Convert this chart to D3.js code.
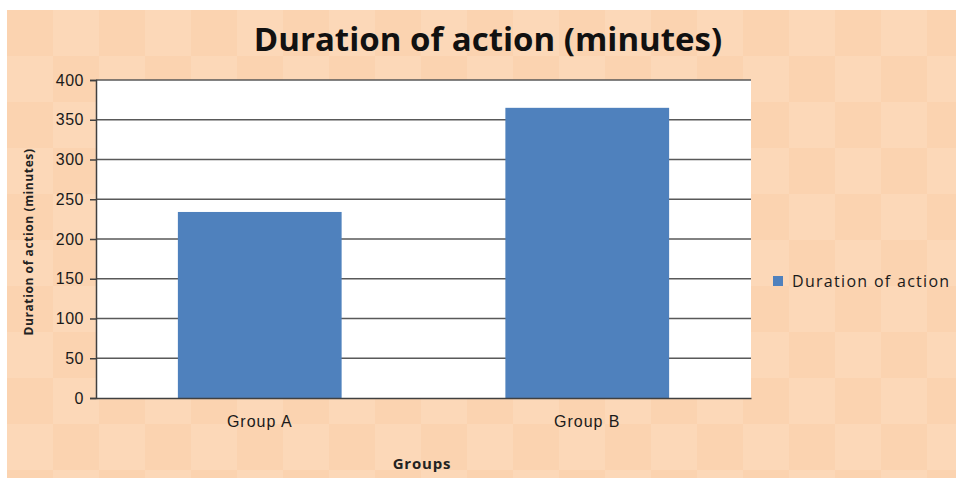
<!DOCTYPE html>
<html>
<head>
<meta charset="utf-8">
<script src="https://cdn.jsdelivr.net/npm/d3@7"></script>
<style>
  body { margin: 0; background: #fff; }
</style>
</head>
<body>
<div id="vis1"></div>
<script>
// data
let groups = ['Group A', 'Group B'];
let durations = [234, 365];
let yTicks = [0, 50, 100, 150, 200, 250, 300, 350, 400];
let seriesName = 'Duration of action';

let W = 956, H = 488;
let margin = { top: 80, left: 96, right: 205, bottom: 90 },
  width = W - margin.left - margin.right,
  height = H - margin.top - margin.bottom;

let svg1 = d3.select('#vis1')
  .append('svg')
  .attr('width', W)
  .attr('height', H)
  .style('font-family', 'Open Sans, Liberation Sans, sans-serif');

// peach checkered background
let bg = svg1.append('g');
bg.append('rect')
  .attr('x', 7).attr('y', 10)
  .attr('width', W - 7).attr('height', 468)
  .attr('fill', '#fcd8b8');
let cell = 46;
for (let i = 0; i * cell < W; i++) {
  for (let j = 0; j * cell < 468; j++) {
    if ((i + j) % 2 == 0) {
      bg.append('rect')
        .attr('x', 7 + i * cell).attr('y', 10 + j * cell)
        .attr('width', Math.min(cell, W - 7 - i * cell))
        .attr('height', Math.min(cell, 468 - j * cell))
        .attr('fill', '#fad0aa')
        .attr('opacity', 0.6);
    }
  }
}

let xScale = d3.scaleBand().domain(groups).range([0, width]).paddingInner(0.5).paddingOuter(0.25),
  yScale = d3.scaleLinear().domain([0, 400]).range([height, 0]);

let g = svg1.append('g')
  .attr('transform', 'translate(' + margin.left + ',' + margin.top + ')');

// plot area
g.append('rect')
  .attr('width', width).attr('height', height)
  .attr('fill', '#fff');

// gridlines
g.append('g')
  .selectAll('line')
  .data(yTicks.filter(d => d > 0))
  .enter()
  .append('line')
  .attr('x1', 0).attr('x2', width)
  .attr('y1', d => yScale(d)).attr('y2', d => yScale(d))
  .attr('stroke', '#595959')
  .attr('stroke-width', 1.5);

// bars
g.append('g')
  .selectAll('rect')
  .data(durations)
  .enter()
  .append('rect')
  .attr('x', (d, i) => xScale(groups[i]))
  .attr('y', d => yScale(d))
  .attr('width', xScale.bandwidth())
  .attr('height', d => height - yScale(d))
  .attr('fill', '#4f81bd');

// y axis
let yAxis = g.append('g')
  .call(d3.axisLeft(yScale).tickValues(yTicks).tickSize(6).tickPadding(6));
yAxis.select('.domain').attr('stroke', '#404040').attr('stroke-width', 1.5);
yAxis.selectAll('.tick line').attr('stroke', '#404040').attr('stroke-width', 1.5);
yAxis.selectAll('.tick text')
  .style('font-size', '16px')
  .style('letter-spacing', '0.5px')
  .attr('fill', '#1a1a1a');

// x axis
let xAxis = g.append('g')
  .attr('transform', 'translate(0,' + height + ')')
  .call(d3.axisBottom(xScale).tickSize(0).tickPadding(18));
xAxis.select('.domain').attr('stroke', '#404040').attr('stroke-width', 1.5);
xAxis.selectAll('.tick text')
  .style('font-size', '16px')
  .style('letter-spacing', '1px')
  .attr('fill', '#1a1a1a');

// title
svg1.append('text')
  .attr('x', 488)
  .attr('y', 51)
  .attr('text-anchor', 'middle')
  .style('font-size', '33px')
  .style('font-weight', 'bold')
  .attr('fill', '#111')
  .text('Duration of action (minutes)');

// x label
svg1.append('text')
  .attr('x', 422)
  .attr('y', 469)
  .attr('text-anchor', 'middle')
  .style('font-size', '15px')
  .style('font-weight', 'bold')
  .style('letter-spacing', '0.8px')
  .attr('fill', '#222')
  .text('Groups');

// y label
svg1.append('text')
  .attr('text-anchor', 'middle')
  .attr('transform', 'translate(33,' + 242 + ')rotate(-90)')
  .style('font-size', '12px')
  .style('font-weight', 'bold')
  .style('letter-spacing', '0.6px')
  .attr('fill', '#222')
  .text('Duration of action (minutes)');

// legend
svg1.append('rect')
  .attr('x', 773).attr('y', 276)
  .attr('width', 10).attr('height', 10)
  .attr('fill', '#4f81bd');
svg1.append('text')
  .attr('x', 792)
  .attr('y', 287)
  .style('font-size', '16px')
  .style('letter-spacing', '1.3px')
  .attr('fill', '#1a1a1a')
  .text(seriesName);
</script>
</body>
</html>
